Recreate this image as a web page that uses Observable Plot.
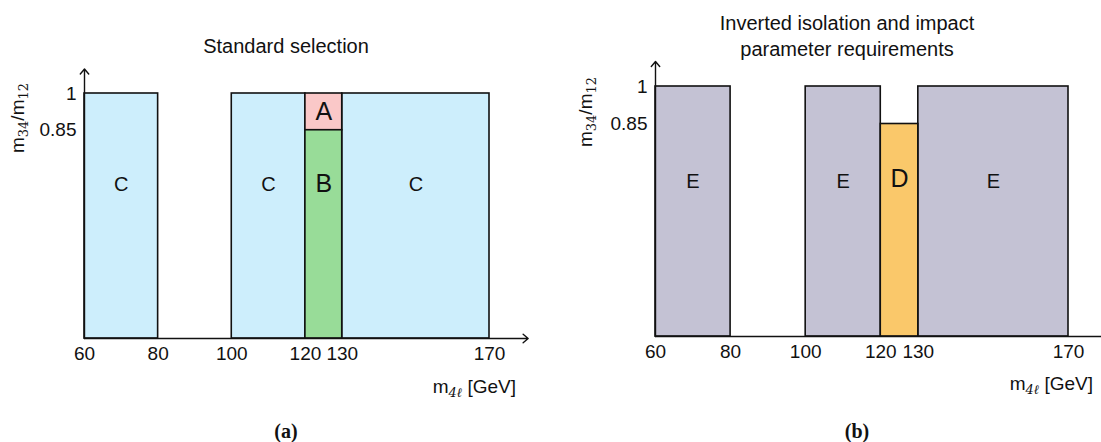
<!DOCTYPE html>
<html>
<head>
<meta charset="utf-8">
<script src="https://cdn.jsdelivr.net/npm/d3@7"></script>
<script src="https://cdn.jsdelivr.net/npm/@observablehq/plot@0.6"></script>
<style>
  html, body { margin: 0; padding: 0; background: #fff; }
  #wrap { position: relative; width: 1101px; height: 442px; overflow: hidden; font-family: "Liberation Sans", Arial, sans-serif; color: #111; }
  .panel { position: absolute; top: 0; }
  .title { position: absolute; text-align: center; font-size: 20px; line-height: 26px; white-space: nowrap; }
  .ylab { position: absolute; font-size: 19px; line-height: 22px; white-space: nowrap; transform: translate(-50%, -50%) rotate(-90deg); }
  .xlab { position: absolute; font-size: 19px; line-height: 22px; white-space: nowrap; transform: translateX(-100%); }
  .sub { font-family: "DejaVu Serif", "Liberation Serif", serif; font-size: 13px; vertical-align: -4px; }
  .cap { position: absolute; font-family: "Liberation Serif", "DejaVu Serif", serif; font-weight: bold; font-size: 20px; line-height: 22px; transform: translateX(-50%); }
</style>
</head>
<body>
<div id="wrap">
  <div class="title" style="left:136px; top:33px; width:300px;">Standard selection</div>
  <div class="title" style="left:647px; top:10px; width:400px;">Inverted isolation and impact<br>parameter requirements</div>
  <div class="ylab" style="left:21px; top:118px;">m<span class="sub">34</span>/m<span class="sub">12</span></div>
  <div class="ylab" style="left:589px; top:112px;">m<span class="sub">34</span>/m<span class="sub">12</span></div>
  <div class="xlab" style="left:516px; top:376px;">m<span class="sub"><i>4ℓ</i></span> [GeV]</div>
  <div class="xlab" style="left:1093px; top:373px;">m<span class="sub"><i>4ℓ</i></span> [GeV]</div>
  <div class="cap" style="left:286px; top:420px;">(a)</div>
  <div class="cap" style="left:857px; top:420px;">(b)</div>
</div>
<script>
// ---- Data ----
const xTicks = [60, 80, 100, 120, 130, 170];
const yTicks = [0.85, 1];

// Panel (a): standard selection
const aNames = ["C", "C", "C", "A", "B"];
const aX1 = [60, 100, 130, 120, 120];
const aX2 = [80, 120, 170, 130, 130];
const aY1 = [0, 0, 0, 0.85, 0];
const aY2 = [1, 1, 1, 1, 0.85];
const aLabelY = [0.63, 0.63, 0.63, 0.925, 0.63];

// Panel (b): inverted isolation and impact parameter requirements
const bNames = ["E", "E", "E", "D"];
const bX1 = [60, 100, 130, 120];
const bX2 = [80, 120, 170, 130];
const bY1 = [0, 0, 0, 0];
const bY2 = [1, 1, 1, 0.85];
const bLabelY = [0.62, 0.62, 0.62, 0.63];

// Axis extents (arrow tips)
const xAxisMax = 180.5;
const yAxisMax = 1.1;

const colors = { A: "#fac8c8", B: "#98dc98", C: "#cdeefc", D: "#fac86a", E: "#c4c2d4" };
const bigLabels = new Set(["A", "B", "D"]);

function panel(names, x1, x2, y1, y2, ly, opts) {
  const rects = names.map((n, i) => ({ name: n, x1: x1[i], x2: x2[i], y1: y1[i], y2: y2[i], ly: ly[i] }));
  const small = rects.filter(d => !bigLabels.has(d.name));
  const big = rects.filter(d => bigLabels.has(d.name));
  return Plot.plot({
    width: opts.width,
    height: 442,
    style: { fontFamily: "'Liberation Sans', Arial, sans-serif", fontSize: "19px", color: "#111", background: "transparent" },
    x: { domain: [60, 170], range: opts.xRange, axis: null },
    y: { domain: [0, 1], range: opts.yRange, axis: null },
    marks: [
      Plot.rect(rects, { x1: "x1", x2: "x2", y1: "y1", y2: "y2", fill: d => colors[d.name], stroke: "#111", strokeWidth: 1.6 }),
      Plot.text(small, { x: d => (d.x1 + d.x2) / 2, y: "ly", text: "name", fontSize: 20, fill: "#111" }),
      Plot.text(big, { x: d => (d.x1 + d.x2) / 2, y: "ly", text: "name", fontSize: 25, fill: "#111" }),
      Plot.arrow([{ x1: 60, y1: 0, x2: xAxisMax, y2: 0 }], { x1: "x1", y1: "y1", x2: "x2", y2: "y2", stroke: "#111", strokeWidth: 1.4, headLength: 7, headAngle: 80 }),
      Plot.arrow([{ x1: 60, y1: 0, x2: 60, y2: yAxisMax }], { x1: "x1", y1: "y1", x2: "x2", y2: "y2", stroke: "#111", strokeWidth: 1.4, headLength: 7, headAngle: 80 }),
      Plot.text(xTicks, { x: d => d, y: 0, text: d => String(d), dy: 15, fontSize: 19, fill: "#111" }),
      Plot.text(yTicks, { x: 60, y: d => d, text: d => String(d), dx: -8, textAnchor: "end", fontSize: 19, fill: "#111" })
    ]
  });
}

const wrap = document.getElementById("wrap");
const pa = panel(aNames, aX1, aX2, aY1, aY2, aLabelY, { width: 550, xRange: [84, 489], yRange: [338, 93] });
pa.classList.add("panel"); pa.style.left = "0px";
const pb = panel(bNames, bX1, bX2, bY1, bY2, bLabelY, { width: 551, xRange: [105, 518], yRange: [336, 86] });
pb.classList.add("panel"); pb.style.left = "550px";
wrap.insertBefore(pb, wrap.firstChild);
wrap.insertBefore(pa, wrap.firstChild);
</script>
</body>
</html>
